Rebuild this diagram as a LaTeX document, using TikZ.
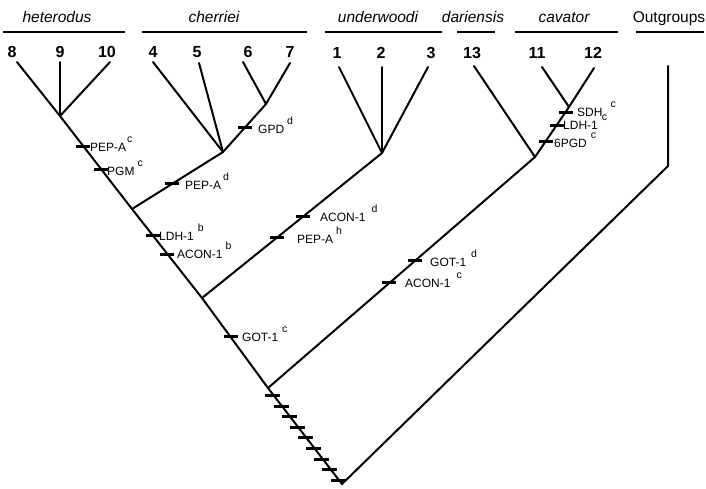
\documentclass[tikz,border=0pt]{standalone}
\usepackage{fontspec}
\setmainfont{Liberation Sans}
\usetikzlibrary{calc}
% allele label: locus name, gap, raised allele letter
\newcommand\allele[3]{#1\hspace{#2}\raisebox{8.5pt}{\fontsize{10.5}{10.5}\selectfont #3}}

\begin{document}
\begin{tikzpicture}[x=1pt,y=-1pt,
  branch/.style={line width=2pt, line join=round, line cap=round},
  tickmk/.style={fill=black, inner sep=0pt, outer sep=0pt, minimum width=14pt, minimum height=3pt},
  lbl/.style={anchor=base west, inner sep=0pt, font=\fontsize{12}{12}\selectfont},
  grp/.style={anchor=base, inner sep=0pt, font=\fontsize{15.5}{16}\selectfont\itshape},
  num/.style={anchor=base, inner sep=0pt, font=\fontsize{16}{16}\selectfont\bfseries},
  bar/.style={line width=2pt}]
\useasboundingbox (0,0) rectangle (706,488);

% group names and bars
\node[grp] (gHet) at (57,22) {heterodus};
\node[grp] (gChe) at (214,22) {cherriei};
\node[grp] (gUnd) at (378,22) {underwoodi};
\node[grp] (gDar) at (473,22) {dariensis};
\node[grp] (gCav) at (564,22) {cavator};
\node[grp, font=\fontsize{15.5}{16}\selectfont] (gOut) at (669,22) {Outgroups};
\draw[bar] (3,32) -- (125,32);
\draw[bar] (142,32) -- (307,32);
\draw[bar] (325,32) -- (442,32);
\draw[bar] (457,32) -- (495,32);
\draw[bar] (515,32) -- (618,32);
\draw[bar] (636,32) -- (704,32);

% terminal numbers
\node[num] (n8)  at (12,57)  {8};
\node[num] (n9)  at (60,57)  {9};
\node[num] (n10) at (107,57) {10};
\node[num] (n4)  at (153,57) {4};
\node[num] (n5)  at (197,57) {5};
\node[num] (n6)  at (248,57) {6};
\node[num] (n7)  at (290,57) {7};
\node[num] (n1)  at (337,58) {1};
\node[num] (n2)  at (381,58) {2};
\node[num] (n3)  at (431,58) {3};
\node[num] (n13) at (472,58) {13};
\node[num] (n11) at (537,58) {11};
\node[num] (n12) at (593,58) {12};

% tips and internal nodes
\coordinate (t8) at (17,62);
\coordinate (t9) at (60,62);
\coordinate (t10) at (110,62);
\coordinate (h) at (60,116);
\coordinate (t4) at (153,62);
\coordinate (t5) at (199,63);
\coordinate (t6) at (243,62);
\coordinate (t7) at (290,63);
\coordinate (j67) at (266,104);
\coordinate (cj) at (223,152);
\coordinate (c) at (132,209);
\coordinate (t1) at (339,67);
\coordinate (t2) at (382,67);
\coordinate (t3) at (428,67);
\coordinate (uj) at (382,153);
\coordinate (u) at (202,298);
\coordinate (t13) at (474,66);
\coordinate (t11) at (542,67);
\coordinate (t12) at (594,68);
\coordinate (j11) at (569,107);
\coordinate (dj) at (535,157);
\coordinate (d) at (268,388);
\coordinate (r) at (342,484);
\coordinate (tog) at (668,66);
\coordinate (og) at (668,166);

% branches
\draw[branch] (t8) -- (h) -- (c) -- (u) -- (d) -- (r) -- (og) -- (tog);
\draw[branch] (t9) -- (h);
\draw[branch] (t10) -- (h);
\draw[branch] (c) -- (cj) -- (j67) -- (t7);
\draw[branch] (t6) -- (j67);
\draw[branch] (t4) -- (cj);
\draw[branch] (t5) -- (cj);
\draw[branch] (u) -- (uj);
\draw[branch] (t1) -- (uj);
\draw[branch] (t2) -- (uj);
\draw[branch] (t3) -- (uj);
\draw[branch] (d) -- (dj) -- (j11) -- (t12);
\draw[branch] (t11) -- (j11);
\draw[branch] (t13) -- (dj);

% character-state changes
\node[tickmk] (kPEPc)  at ($(h)!0.323!(c)$) {};
\node[tickmk] (kPGMc)  at ($(h)!0.57!(c)$) {};
\node[tickmk] (kLDHb)  at ($(c)!0.303!(u)$) {};
\node[tickmk] (kACONb) at ($(c)!0.506!(u)$) {};
\node[tickmk] (kGOTc)  at ($(u)!0.433!(d)$) {};
\node[tickmk] (kPEPd)  at ($(c)!0.439!(cj)$) {};
\node[tickmk] (kGPDd)  at ($(cj)!0.52!(j67)$) {};
\node[tickmk] (kPEPh)  at ($(u)!0.414!(uj)$) {};
\node[tickmk] (kACONd) at ($(u)!0.559!(uj)$) {};
\node[tickmk] (kACONc) at ($(d)!0.455!(dj)$) {};
\node[tickmk] (kGOTd)  at ($(d)!0.55!(dj)$) {};
\node[tickmk] (kPGDc)  at ($(dj)!0.32!(j11)$) {};
\node[tickmk] (kLDHc)  at ($(dj)!0.64!(j11)$) {};
\node[tickmk] (kSDHc)  at ($(dj)!0.9!(j11)$) {};
\foreach \p [count=\i] in {0.08,0.19,0.30,0.41,0.52,0.63,0.74,0.85,0.96}
  \node[tickmk, minimum width=15pt, xshift=-1pt] (kb\i) at ($(d)!\p!(r)$) {};

% allele labels
\node[lbl] (lPEPc)  at (90,151)  {\allele{PEP-A}{1pt}{c}};
\node[lbl] (lPGMc)  at (107,175) {\allele{PGM}{3pt}{c}};
\node[lbl] (lLDHb)  at (159,240) {\allele{LDH-1}{4pt}{b}};
\node[lbl] (lACONb) at (177,258) {\allele{ACON-1}{3pt}{b}};
\node[lbl] (lGOTc)  at (242,341) {\allele{GOT-1}{4pt}{c}};
\node[lbl] (lPEPd)  at (185,189) {\allele{PEP-A}{2pt}{d}};
\node[lbl] (lGPDd)  at (258,133) {\allele{GPD}{3pt}{d}};
\node[lbl] (lPEPh)  at (297,243) {\allele{PEP-A}{3pt}{h}};
\node[lbl] (lACONd) at (320,221) {\allele{ACON-1}{6pt}{d}};
\node[lbl] (lACONc) at (405,287) {\allele{ACON-1}{6pt}{c}};
\node[lbl] (lGOTd)  at (430,266) {\allele{GOT-1}{5pt}{d}};
\node[lbl] (lPGDc)  at (554,147) {\allele{6PGD}{4pt}{c}};
\node[lbl] (lLDHc)  at (563,129) {\allele{LDH-1}{4pt}{c}};
\node[lbl] (lSDHc)  at (577,116) {\allele{SDH}{8pt}{c}};
\end{tikzpicture}
\end{document}
